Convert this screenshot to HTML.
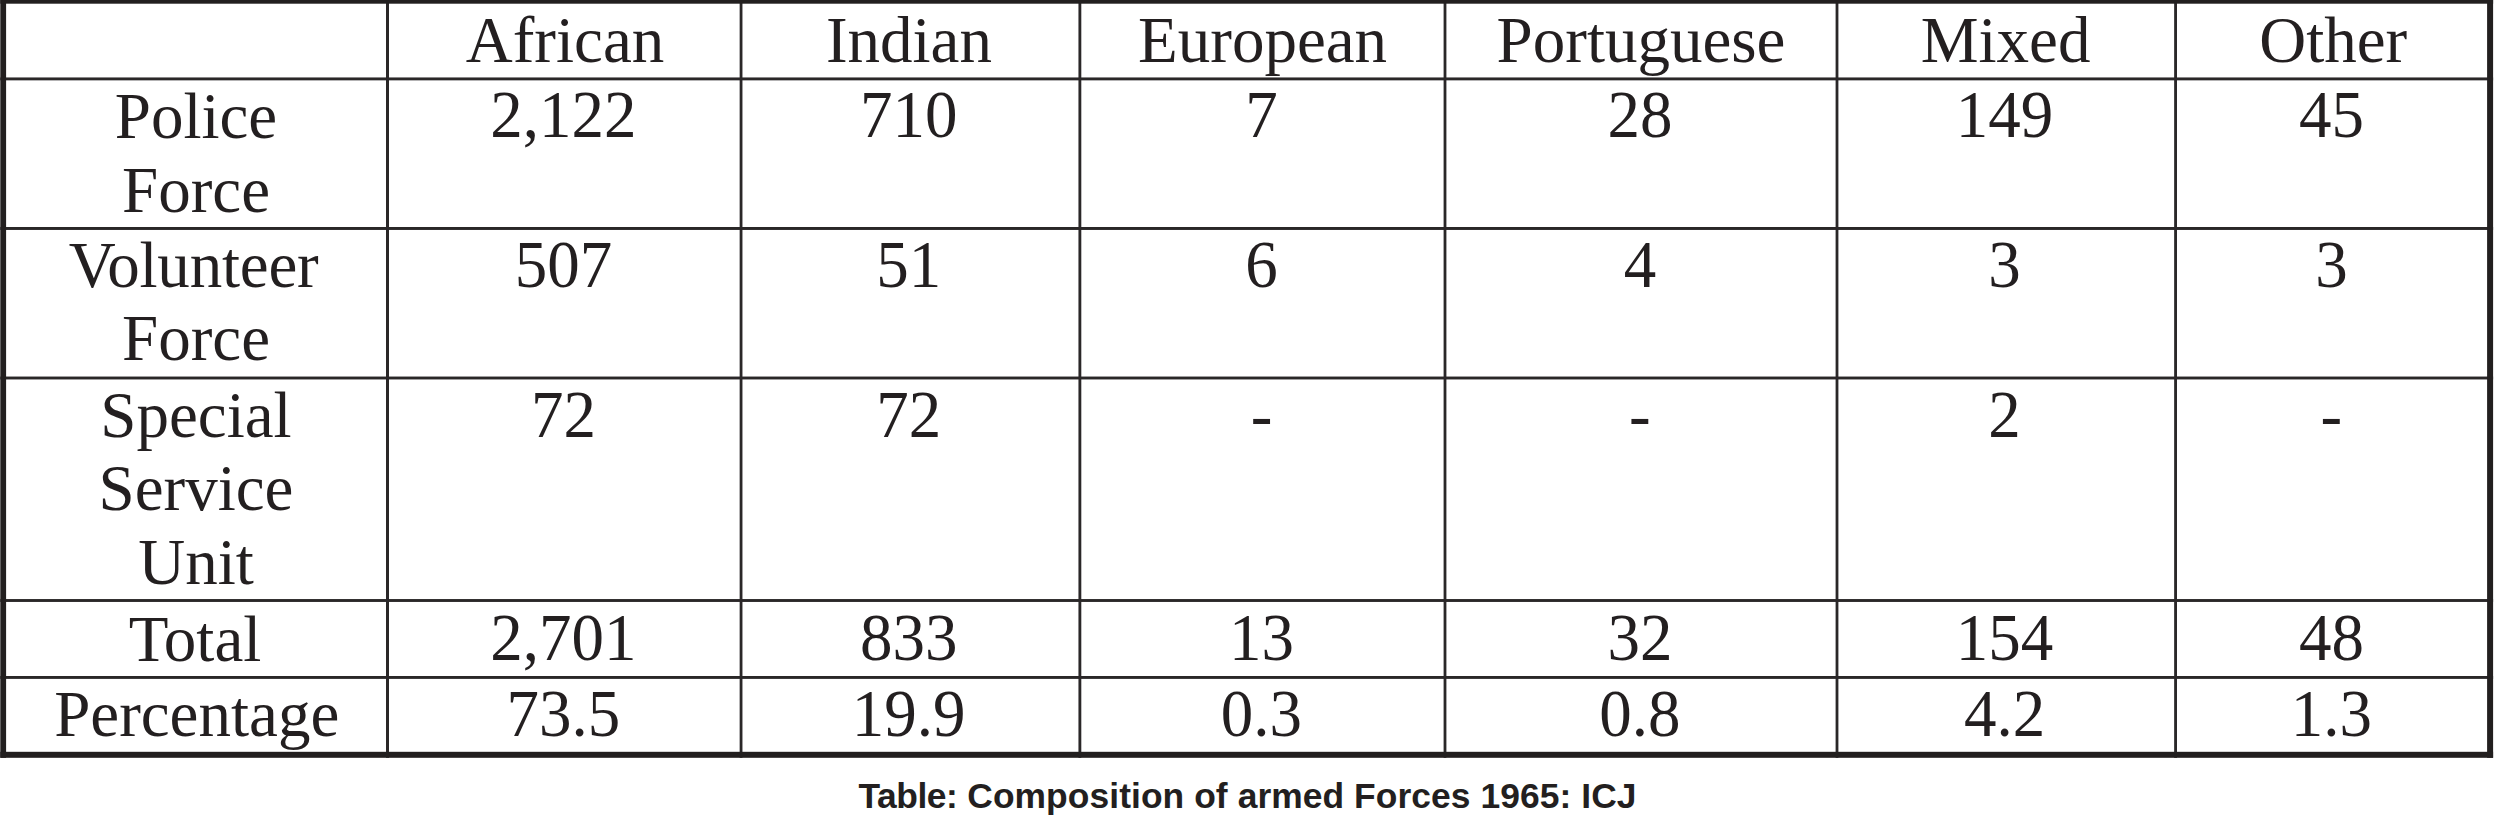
<!DOCTYPE html>
<html lang="en"><head><meta charset="utf-8"><title>Table: Composition of armed Forces 1965: ICJ</title>
<style>
html,body{margin:0;padding:0;background:#fff;}
body{width:2495px;height:828px;position:relative;overflow:hidden;font-family:"Liberation Serif","Times New Roman",serif;color:#231f20;}
.g{position:absolute;left:0;top:0;}
table{position:absolute;left:0;top:0;width:2495px;table-layout:fixed;border-collapse:collapse;border-spacing:0;}
td,th{position:relative;padding:0;margin:0;border:0;font-weight:normal;overflow:visible;}
.c{position:absolute;display:block;text-align:center;font-size:65.0px;line-height:72.0px;height:72.0px;white-space:nowrap;}
.d{transform:scaleY(1.03);transform-origin:50% 57.94px;}
caption{caption-side:bottom;padding:17.7px 0 0 0;margin:0;text-align:center;font-family:"Liberation Sans",Arial,sans-serif;font-weight:bold;font-size:35.4px;line-height:40px;white-space:nowrap;}
</style></head><body>

<svg class="g" width="2495" height="828" viewBox="0 0 2495 828" fill="#221f1f">
<g fill="#2a2728"><rect x="386.0" y="0" width="3.0" height="757.8"/><rect x="739.65" y="0" width="2.8" height="757.8"/><rect x="1078.45" y="0" width="2.85" height="757.8"/><rect x="1443.6" y="0" width="2.8" height="757.8"/><rect x="1835.6" y="0" width="2.8" height="757.8"/><rect x="2174.15" y="0" width="2.85" height="757.8"/><rect x="0.3" y="77.45" width="2492.8" height="2.9"/><rect x="0.3" y="227.0" width="2492.8" height="2.95"/><rect x="0.3" y="376.55" width="2492.8" height="2.9"/><rect x="0.3" y="599.05" width="2492.8" height="2.9"/><rect x="0.3" y="676.0" width="2492.8" height="2.9"/></g>
<g><rect x="0.3" y="0" width="5.8" height="757.8"/><rect x="2487.1" y="0" width="6.0" height="757.8"/><rect x="0.3" y="0" width="2492.8" height="3.7"/><rect x="0.3" y="751.8" width="2492.8" height="6.0"/></g>
</svg>
<table>
<caption><span style="letter-spacing:-0.45px">Table:</span><span style="letter-spacing:0.07px"> Composition of armed Forces 1965: ICJ</span></caption>
<colgroup><col style="width:388px"><col style="width:353px"><col style="width:339px"><col style="width:365px"><col style="width:392px"><col style="width:339px"><col style="width:319px"></colgroup>
<tr style="height:79px">
<td></td>
<th scope="col"><span class="c" style="left:1.9px;width:350.3px;top:3.66px">African</span></th>
<th scope="col"><span class="c" style="left:0.0px;width:335.9px;top:3.66px">Indian</span></th>
<th scope="col"><span class="c" style="left:1.7px;width:361.8px;top:3.66px">European</span></th>
<th scope="col"><span class="c" style="left:1.2px;width:389.7px;top:3.66px">Portuguese</span></th>
<th scope="col"><span class="c" style="left:1.1px;width:335.0px;top:3.66px">Mixed</span></th>
<th scope="col"><span class="c" style="left:2.1px;width:310.3px;top:3.66px">Other</span></th>
</tr>
<tr style="height:149px">
<th scope="row"><span class="c" style="left:6.2px;width:379.6px;top:1.36px">Police</span> <span class="c" style="left:6.2px;width:379.6px;top:74.76px">Force</span></th>
<td><span class="c d" style="left:0.3px;width:350.3px;top:0.36px">2,122</span></td>
<td><span class="c d" style="left:-0.3px;width:335.9px;top:0.36px">710</span></td>
<td><span class="c d" style="left:0.6px;width:361.8px;top:0.36px">7</span></td>
<td><span class="c d" style="left:0.1px;width:389.7px;top:0.36px">28</span></td>
<td><span class="c d" style="left:0.0px;width:335.0px;top:0.36px">149</span></td>
<td><span class="c d" style="left:0.3px;width:310.3px;top:0.36px">45</span></td>
</tr>
<tr style="height:150px">
<th scope="row"><span class="c" style="left:3.9px;width:379.6px;top:1.16px;letter-spacing:-0.2px">Volunteer</span> <span class="c" style="left:6.2px;width:379.6px;top:74.46px">Force</span></th>
<td><span class="c d" style="left:0.3px;width:350.3px;top:1.36px">507</span></td>
<td><span class="c d" style="left:-0.3px;width:335.9px;top:1.36px">51</span></td>
<td><span class="c d" style="left:0.6px;width:361.8px;top:1.36px">6</span></td>
<td><span class="c d" style="left:0.1px;width:389.7px;top:1.36px">4</span></td>
<td><span class="c d" style="left:0.0px;width:335.0px;top:1.36px">3</span></td>
<td><span class="c d" style="left:0.3px;width:310.3px;top:1.36px">3</span></td>
</tr>
<tr style="height:222px">
<th scope="row"><span class="c" style="left:6.2px;width:379.6px;top:1.01px">Special</span> <span class="c" style="left:6.2px;width:379.6px;top:74.36px">Service</span> <span class="c" style="left:6.2px;width:379.6px;top:148.26px">Unit</span></th>
<td><span class="c d" style="left:0.3px;width:350.3px;top:1.01px">72</span></td>
<td><span class="c d" style="left:-0.3px;width:335.9px;top:1.01px">72</span></td>
<td><span class="c d" style="left:0.6px;width:361.8px;top:1.01px">-</span></td>
<td><span class="c d" style="left:0.1px;width:389.7px;top:1.01px">-</span></td>
<td><span class="c d" style="left:0.0px;width:335.0px;top:1.01px">2</span></td>
<td><span class="c d" style="left:0.3px;width:310.3px;top:1.01px">-</span></td>
</tr>
<tr style="height:77px">
<th scope="row"><span class="c" style="left:5.2px;width:379.6px;top:2.66px">Total</span></th>
<td><span class="c d" style="left:0.3px;width:350.3px;top:1.86px">2,701</span></td>
<td><span class="c d" style="left:-0.3px;width:335.9px;top:1.86px">833</span></td>
<td><span class="c d" style="left:0.6px;width:361.8px;top:1.86px">13</span></td>
<td><span class="c d" style="left:0.1px;width:389.7px;top:1.86px">32</span></td>
<td><span class="c d" style="left:0.0px;width:335.0px;top:1.86px">154</span></td>
<td><span class="c d" style="left:0.3px;width:310.3px;top:1.86px">48</span></td>
</tr>
<tr style="height:81px">
<th scope="row"><span class="c" style="left:6.9px;width:379.6px;top:1.36px">Percentage</span></th>
<td><span class="c d" style="left:0.3px;width:350.3px;top:1.36px">73.5</span></td>
<td><span class="c d" style="left:-0.3px;width:335.9px;top:1.36px">19.9</span></td>
<td><span class="c d" style="left:0.6px;width:361.8px;top:1.36px">0.3</span></td>
<td><span class="c d" style="left:0.1px;width:389.7px;top:1.36px">0.8</span></td>
<td><span class="c d" style="left:0.0px;width:335.0px;top:1.36px">4.2</span></td>
<td><span class="c d" style="left:0.3px;width:310.3px;top:1.36px">1.3</span></td>
</tr>
</table>
</body></html>
